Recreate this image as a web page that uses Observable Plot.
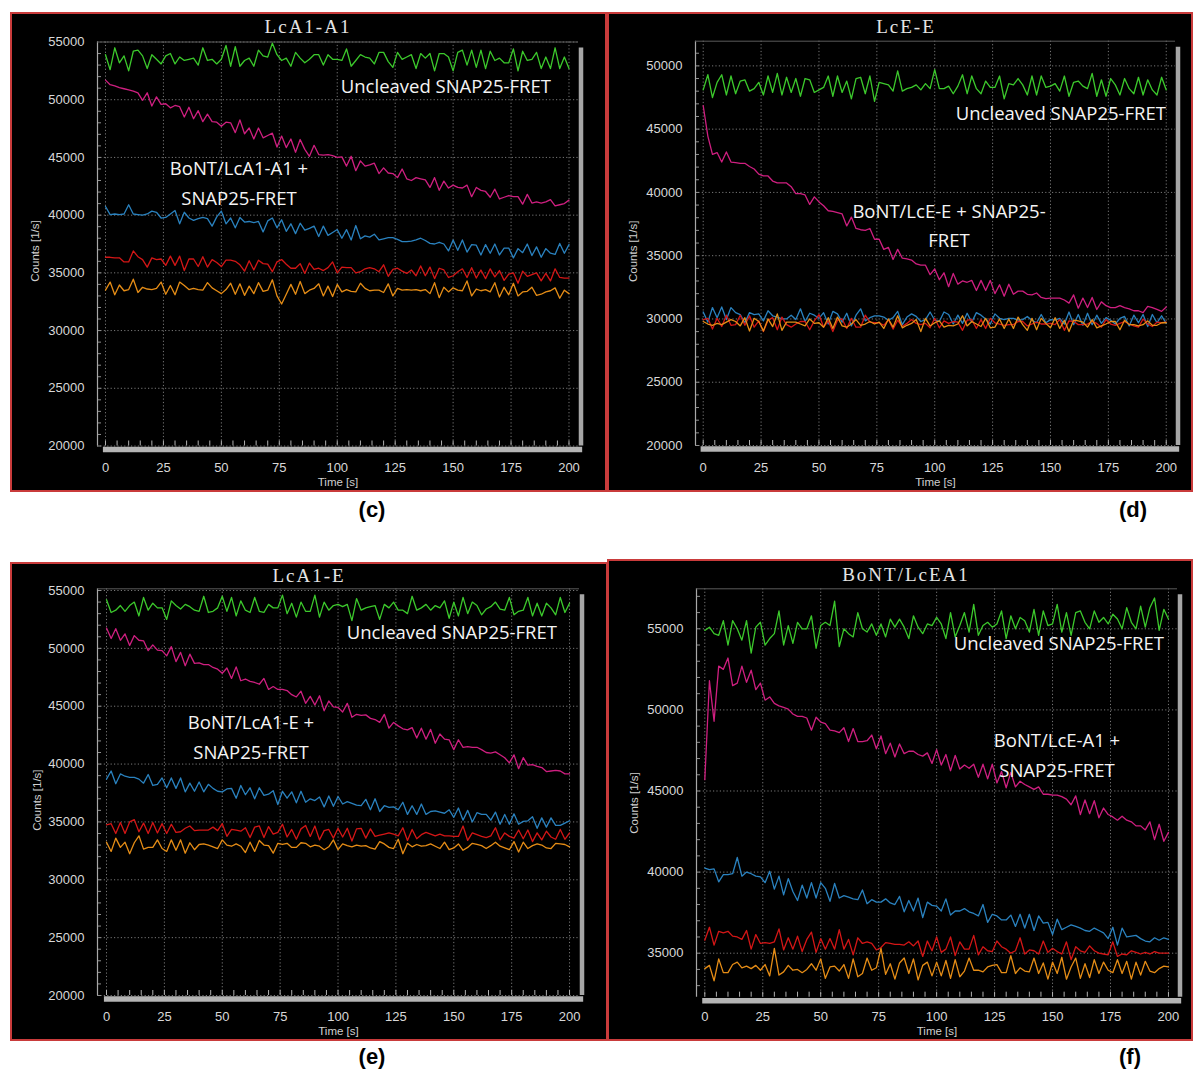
<!DOCTYPE html>
<html>
<head>
<meta charset="utf-8">
<script src="https://cdn.jsdelivr.net/npm/d3@7"></script>
<script src="https://cdn.jsdelivr.net/npm/@observablehq/plot@0.6"></script>
<style>
  html, body { margin: 0; padding: 0; background: #fff; }
  #root { position: relative; width: 1193px; height: 1072px; overflow: hidden; background: #fff; }
  .panel { position: absolute; box-sizing: border-box; background: #000; border: 2px solid #c93b3b; }
  .plot { position: absolute; }
  .plot svg { overflow: visible; }
  .lbl { position: absolute; white-space: nowrap; line-height: 1; }
</style>
</head>
<body>
<div id="root"></div>
<script>
// ---------------- DATA ----------------
const time = [0,2,4,6,8,10,12,14,16,18,20,22,24,26,28,30,32,34,36,38,40,42,44,46,48,50,52,54,56,58,60,62,64,66,68,70,72,74,76,78,80,82,84,86,88,90,92,94,96,98,100,102,104,106,108,110,112,114,116,118,120,122,124,126,128,130,132,134,136,138,140,142,144,146,148,150,152,154,156,158,160,162,164,166,168,170,172,174,176,178,180,182,184,186,188,190,192,194,196,198,200];
const xTicks = [0,25,50,75,100,125,150,175,200];
const seriesNames = ["Uncleaved SNAP25-FRET","BoNT + SNAP25-FRET","blue trace","red trace","orange trace"];

// Panel (c) LcA1-A1
const cGreen = [53900,52600,54500,53200,53800,52500,54200,54300,53800,52700,
 53900,53500,53100,53800,54000,53100,53700,53400,53500,53600,
 53000,54500,53400,53500,53100,53500,54700,52900,54600,52900,
 53400,53600,52900,54300,53800,53700,54900,53900,53400,53600,
 52900,54100,53600,53200,53500,53900,53900,53000,53900,53500,
 53500,53400,54400,52900,53400,53900,53700,53600,53100,54100,
 54100,53300,52800,54100,53500,53700,53900,52700,54000,53600,
 54000,52500,54000,54000,53700,52500,54100,54300,53000,54300,
 52800,54300,52700,54200,53400,53600,53200,53200,54400,52500,
 54200,53400,53500,54100,52700,53700,52700,54500,52700,53700,
 52700];
const cMagenta = [51700,51300,51200,51050,50950,50850,50750,50600,49950,50600,
 49450,50250,49600,49650,49300,49500,49400,48500,49350,48350,
 49050,48100,48750,48100,48050,47700,48050,48000,47150,48250,
 47050,47550,46600,47550,46700,46900,47100,45900,46850,45850,
 46600,45450,46550,45700,45100,46050,45250,45200,45250,45150,
 45000,45050,44250,45100,43850,44700,44250,44350,44500,43600,
 44100,43650,43600,43250,44000,43150,43000,43250,43150,43050,
 42400,43250,42150,42950,42350,42600,42400,42350,42600,41600,
 42400,42150,42050,41550,42250,41400,41550,41700,41600,41600,
 40950,41800,41050,41150,41050,41150,41350,40800,40900,41000,
 41300];
const cBlue = [40750,40050,40100,40050,40100,40900,40100,40050,40000,40100,
 40350,40250,39750,39800,40100,40400,39250,40250,39750,39550,
 39700,39800,39700,39050,39850,40350,39250,39750,38900,39800,
 39400,39450,39350,39450,38550,39500,39750,38900,39600,38600,
 39250,38400,39300,38700,38850,39050,38150,39050,38250,38500,
 38750,38000,38750,37850,39100,37950,38200,38100,38350,37850,
 37950,38050,38050,37900,37700,37700,37750,37850,38000,37800,
 37550,37500,37650,37500,36900,37850,36950,37850,36800,37450,
 37400,36550,37450,36700,37500,36550,37150,37150,36300,37100,
 36750,37500,36500,37250,36350,37100,36700,36600,37550,36700,
 37450];
const cRed = [36350,36350,36300,36300,35950,35950,36900,36400,36150,35500,
 36300,36150,36200,35650,36450,35650,36450,35200,36200,36200,
 35550,36400,35500,36150,35900,35550,36100,36100,36000,35700,
 35150,36050,35250,36100,35800,35750,35100,35950,36150,35750,
 35400,35400,35800,34950,35850,35300,35400,35200,35450,35950,
 35000,35500,35450,35450,35000,35100,35350,35450,35350,35100,
 35700,34700,35300,35400,35150,34950,35250,34750,35600,34750,
 35500,34500,35400,35250,34600,34750,35100,35350,34600,35450,
 34550,35250,34500,35350,34650,35200,34350,34900,35000,34100,
 35150,34700,34850,35000,34300,34950,34300,35350,34600,34550,
 34550];
const cOrange = [33500,34200,33100,33950,33450,33550,34450,33300,33750,33600,
 33550,33650,34200,33150,33900,33100,34200,33900,33550,33650,
 33550,33500,34150,33700,33450,33200,33550,34100,33150,34050,
 33050,33850,33200,34150,33400,33500,34400,33000,32300,33150,
 34000,33150,34250,33200,33500,33650,34050,33000,33850,32950,
 34000,33350,33550,33400,33350,34100,33650,33450,33500,33500,
 33300,34050,33000,33650,33500,33550,33500,33550,33450,33550,
 33200,34150,32850,33750,33350,33700,33500,33450,34300,33000,
 33600,33450,33550,33350,34150,32900,33750,33100,34100,33000,
 33350,33400,33750,33050,33150,33350,33450,33700,32800,33500,
 33200];

// Panel (d) LcE-E
const dGreen = [48100,49300,47500,48700,49300,47700,49200,47800,48800,48900,
 48000,48200,48700,47700,49200,47900,49400,47700,49100,47900,
 49000,47600,49000,48900,47900,48100,48300,49200,47600,49200,
 47900,48800,47400,49000,49100,47800,49200,47200,48700,48600,
 48500,48000,49600,48000,48200,48300,48500,48100,48600,48200,
 49700,48200,48200,48400,47800,48400,49300,47800,49200,48200,
 47800,48800,48300,48300,49200,47400,48600,48500,49000,48500,
 47700,49200,47700,49200,48300,48400,48600,48000,49200,47600,
 48700,48800,48400,48200,49400,47600,48900,47600,49000,48500,
 47700,49000,48200,47800,49100,47700,48900,48100,47700,49100,
 48100];
const dMagenta = [46850,44450,43000,43150,42400,43200,42400,42350,42300,42300,
 42050,41850,41450,41300,41300,40900,40750,40750,40750,40450,
 39900,39900,39800,39050,39650,39250,38950,38550,38500,38400,
 38300,37350,38050,37150,37050,37000,37150,36300,36300,35500,
 35650,34700,35500,34800,34750,34650,34350,34250,34250,33500,
 33950,33100,33650,32550,33600,32750,33000,32900,33050,32250,
 33050,32250,33050,32000,32700,31800,32750,31950,32200,32200,
 31950,31900,32050,31700,31600,31650,31650,31650,31500,31250,
 31900,30850,31650,30900,31700,30750,31350,31050,30900,30900,
 31050,30900,30800,30650,30650,30500,31000,30900,30750,30600,
 30950];
const dBlue = [30550,29750,30900,30100,30950,29950,30900,30500,30350,29700,
 30500,30350,30400,29850,30650,30250,30150,30000,30000,30300,
 29950,30800,29800,30450,30300,30050,30500,29600,30600,30400,
 29750,30450,29450,30300,30800,29850,30100,30250,30250,30150,
 29900,30100,30600,29550,30150,30400,30200,29800,29950,30550,
 29900,29800,30550,30350,29600,30300,29650,30450,29750,30500,
 30300,30000,29600,30400,30050,29950,30050,30050,29900,29950,
 30200,29900,29700,30350,29700,29950,29900,30050,29600,30550,
 29550,30350,29500,30450,29550,30300,29650,30100,29900,29600,
 30050,30200,29450,30300,29700,30350,29400,30350,29700,30250,
 29650];
const dRed = [29950,30050,29200,30050,29400,30300,29500,29550,30300,29500,
 30250,29350,29850,29000,29900,30100,29150,30150,29550,29350,
 29600,29800,29800,29150,29850,30350,29350,29850,29000,29900,
 30000,29250,30050,29350,29350,30300,29750,29700,29700,29500,
 29950,29200,29900,29400,29650,29950,29650,29550,29650,29300,
 30050,29300,29850,29650,29800,29750,29100,29900,29950,29250,
 29950,29250,30050,29700,29600,29500,29550,29550,29800,29800,
 29450,29600,29750,29600,29600,29650,29550,29950,29100,29850,
 29800,29550,29550,29600,29800,29650,29350,29950,29600,29500,
 29650,29800,29600,29450,29350,30000,29600,29400,29750,29700,
 29750];
const dOrange = [29800,29600,29500,29650,29550,29750,29950,29800,29450,30100,
 29050,30050,29800,29050,30000,29400,30400,29100,29750,29750,
 29750,29600,29450,30000,29650,29700,29350,30100,29250,30150,
 29450,29350,29600,29950,29500,29600,29800,29600,29750,29250,
 30000,29350,30250,29300,29500,29650,29950,29000,30050,29450,
 29700,29850,29350,29500,29450,29600,30250,29450,29800,29600,
 29400,30050,29300,29350,30000,29250,30000,29250,30150,29550,
 29100,30050,29150,30050,29650,29300,30100,29250,29900,29000,
 29900,29850,29750,29350,29950,29300,29450,29600,29800,29800,
 29150,29900,29550,29550,29450,29550,29850,29500,29500,29700,
 29700];

// Panel (e) LcA1-E
const eGreen = [54200,53100,53300,53700,53200,53700,54000,52800,54400,53300,
 53900,53500,53500,52500,54100,53700,53400,53800,53600,53300,
 53200,54500,53100,53200,53500,54500,53200,54400,52800,54100,
 53300,53100,54400,53200,53100,53800,53500,53500,54600,53000,
 53900,52700,54000,53200,53200,54600,52700,54000,53300,53700,
 53800,53600,53800,52400,54300,53300,53500,53600,53700,52500,
 53800,53500,54000,53300,53300,53000,54500,53300,53500,53800,
 53300,53700,53500,54100,52600,54000,52800,54400,53000,54000,
 53700,52900,53400,53600,54000,53400,53300,54400,52900,53200,
 53300,54400,52800,53900,52800,53900,53500,52900,54400,53100,
 53900];
const eMagenta = [51750,50850,51700,50700,51250,50250,51100,50700,50650,49800,
 50300,49850,49800,49350,50150,48850,49650,48500,49500,48700,
 48750,48600,48600,48350,48200,47850,48300,47400,48400,47200,
 47350,47150,47050,46900,47400,46450,46700,46450,46450,46350,
 46000,45800,46300,45250,45850,45100,45900,44600,45450,44950,
 44900,44500,45250,44050,44300,44200,44250,43950,43850,43600,
 44300,43100,43600,43300,43050,42950,43150,42250,43100,42150,
 43000,41800,42600,42150,42100,41250,42100,41450,41500,41450,
 41450,41250,41000,40950,41050,40800,40550,40100,40800,39600,
 40550,39900,39950,39800,39700,39350,39400,39450,39400,39150,
 39150];
const eBlue = [38700,39400,38300,39150,38950,38850,38850,38700,38350,39100,
 38150,38250,38800,37950,38800,37900,38800,37600,38350,37650,
 38450,37600,38250,37900,37650,37600,37850,37900,37050,38150,
 37350,37950,37000,37950,37300,37400,37700,36500,37650,37050,
 37600,36650,37650,36700,37000,36850,37150,36300,37250,36350,
 37200,36550,36750,36600,36450,36400,36950,36050,37000,35900,
 36400,36250,36300,36050,36700,35650,36400,35650,36550,35650,
 35900,35950,35850,35750,36050,35400,36200,35150,36000,35000,
 35800,35650,35650,35150,35850,34800,35650,34800,35700,34800,
 35050,35100,35450,34450,35350,34550,35350,34700,34700,34900,
 35100];
const eRed = [34750,34850,34000,34950,34000,35000,35200,34150,34900,34000,
 34950,34050,34850,34000,34800,34100,34150,34450,34650,34250,
 34300,34300,34300,34550,34250,34850,33750,34350,34300,34200,
 34500,33650,34550,34650,33650,34600,33950,34100,34800,33700,
 34350,33500,34400,34700,33750,34650,33450,34250,34350,33600,
 34450,33700,34450,33350,34400,34450,33600,34400,33750,33850,
 33950,34050,33950,33800,34500,33400,34350,33550,33900,34100,
 33950,33800,33950,33800,33800,33750,33750,34650,33400,34050,
 33900,33750,33650,33800,34500,33450,34050,33750,33600,34300,
 33550,34300,33300,34050,33450,34200,33700,33500,34350,33500,
 34050];
const eOrange = [33250,32450,33600,32800,33250,32250,33200,33800,32650,32800,
 32800,33450,32700,32450,33450,32550,33450,32300,33200,32600,
 33050,33100,33000,32850,32700,33450,33000,32900,33100,32900,
 32350,33250,32450,33400,33000,32950,32300,33150,33050,33150,
 32800,32800,33200,33150,32850,33000,32900,32600,32850,33450,
 32600,33100,32950,32850,33000,32900,32950,32750,32650,33300,
 33100,32800,32700,33500,32250,33150,32850,33050,32900,32950,
 33100,32900,32700,33250,32600,32750,33100,32550,32800,33150,
 33050,32950,32700,32950,33250,32900,32750,32600,33300,32400,
 33250,32700,32950,33100,33000,32750,32700,33150,33100,33050,
 32850];

// Panel (f) BoNT/LcEA1
const fGreen = [54900,55100,54700,54600,55500,54000,55500,55000,54300,55500,
 53500,55100,55400,54000,54400,54700,56100,54000,55200,54100,
 55400,55000,55000,55800,53800,55200,55400,55200,56700,53900,
 55000,54700,54500,56000,55000,54800,55300,54600,55300,54500,
 55600,55100,55600,55100,54400,55800,55100,54700,55300,55200,
 55700,55300,54400,56000,54500,55200,56000,54800,56500,54600,
 55200,55400,55100,55300,56100,54400,55800,55000,55700,55500,
 54800,56200,54600,56100,55200,55300,56500,54800,56000,54600,
 56000,56100,55400,55000,56100,55400,55700,55300,55900,55600,
 55000,56300,55400,55000,56400,55100,56300,56900,54900,56200,
 55600];
const fMagenta = [45700,51800,49300,52700,52500,53200,51500,51650,52700,51700,
 52450,51250,51650,50600,50800,50400,50250,50150,50050,49750,
 49600,49600,49500,48750,49550,49250,49150,48750,48700,48600,
 48900,48050,48850,48050,48050,48100,48450,47600,48400,47300,
 47950,47100,47900,47300,47450,47450,47250,47150,47350,46700,
 47550,46600,47250,46250,47200,46350,46600,46400,46650,45850,
 46650,45750,46650,45500,46200,45200,46150,45250,45600,45400,
 45250,45100,45250,44800,44800,44750,44750,44650,44500,44150,
 44700,43550,44450,43600,44400,43350,43950,43550,43400,43200,
 43450,43200,43100,42850,42850,42600,43100,42000,42950,41900,
 42450];
const fBlue = [40250,40150,40200,39400,39850,39850,39900,40900,39750,40000,
 39900,39750,39700,39350,40050,38950,39750,38600,39600,38800,
 38250,39200,38400,39350,38400,39350,39000,38200,39300,38400,
 38550,38450,38350,38300,38900,38050,38300,38150,38150,38350,
 38100,38000,38500,37550,38250,37600,38400,37200,38150,37950,
 37900,37600,38350,37350,37600,37600,37750,37550,37450,37300,
 38000,36900,37400,37300,37050,37050,37350,36650,37400,36550,
 37400,36400,37300,36850,36900,36150,37100,36450,36600,36750,
 36650,36550,36400,36350,36550,36400,36250,35900,36600,35500,
 36550,36000,36050,36100,35900,35750,35700,35950,35800,35950,
 35850];
const fRed = [35800,36600,35500,36350,36250,36350,36050,36000,35850,36400,
 35250,36150,35600,35650,35600,35700,36500,35200,35950,35250,
 36050,35100,35850,36300,35050,35900,35250,35900,35250,36450,
 35250,35850,34900,35950,35600,35700,35600,35200,35350,35650,
 35600,35550,35550,35500,35700,35450,35750,34800,35750,35150,
 36000,35050,35250,36000,34850,35700,35250,35250,36100,34900,
 35400,35150,35100,35750,35400,35250,35000,35150,35950,34950,
 35200,35150,34950,35750,35050,35300,35100,34950,35700,34600,
 35400,35150,35050,35450,35150,35000,34950,34900,35700,34800,
 34950,34900,35150,35050,34950,35050,34950,35100,35000,35000,
 35000];
const fOrange = [34050,34250,33300,34650,33800,33800,34300,34450,34100,34200,
 34050,34250,33950,34300,33600,35300,33650,33850,34250,33950,
 34000,33800,34000,34350,33950,34650,33450,34150,34200,33900,
 34300,33450,34650,33550,33750,34700,33950,34100,35300,33700,
 34350,33400,34400,34700,33750,34650,33350,34250,34450,33600,
 34450,33600,34550,33450,34600,33550,33900,34700,33950,33950,
 33850,34150,34250,34300,33800,33800,34850,33750,34100,33900,
 33850,34700,33750,34400,33400,34450,33750,34750,33400,34150,
 34700,33450,34350,33500,34600,33750,34450,33950,33800,34600,
 33750,34500,33400,34450,33650,34500,33900,33800,34050,34200,
 34150];

// ---------------- LAYOUT / STYLE ----------------
const colors = {green: "#3cc92c", magenta: "#cf1f80", blue: "#2a82bf", red: "#d41616", orange: "#e68d16"};
const panels = [
  {title: "LcA1-A1", letter: "(c)", box: [10, 12, 597, 480], m: [29.5, 29, 46.5, 87],
   xDomain: [-3.45, 204.1], yDomain: [20000, 55000], yTicks: [20000,25000,30000,35000,40000,45000,50000,55000],
   barTop: 54480, tickPad: 17, timeDy: 36.5, countDx: -62, countDy: 7,
   titlePos: [308, 26], letterPos: [372, 510],
   notes: [["Uncleaved SNAP25-FRET", 551, 86, "end"], ["BoNT/LcA1-A1 +", 239, 168, "middle"], ["SNAP25-FRET", 239, 198, "middle"]],
   s: [cGreen, cMagenta, cBlue, cRed, cOrange]},
  {title: "LcE-E", letter: "(d)", box: [607, 12, 586, 480], m: [28.7, 18, 47, 88],
   xDomain: [-3.33, 204], yDomain: [20000, 51950], yTicks: [20000,25000,30000,35000,40000,45000,50000],
   barTop: 51470, tickPad: 17, timeDy: 37, countDx: -62, countDy: 8,
   titlePos: [906, 26], letterPos: [1133, 510],
   notes: [["Uncleaved SNAP25-FRET", 1166, 113, "end"], ["BoNT/LcE-E + SNAP25-", 949, 211, "middle"], ["FRET", 949, 240, "middle"]],
   s: [dGreen, dMagenta, dBlue, dRed, dOrange]},
  {title: "LcA1-E", letter: "(e)", box: [10, 562, 598, 479], m: [26.3, 29, 46, 87],
   xDomain: [-3.89, 204.3], yDomain: [20000, 55147], yTicks: [20000,25000,30000,35000,40000,45000,50000,55000],
   barTop: 54630, tickPad: 16.5, timeDy: 36, countDx: -60, countDy: 8,
   titlePos: [309, 575], letterPos: [372, 1057],
   notes: [["Uncleaved SNAP25-FRET", 557, 632, "end"], ["BoNT/LcA1-E +", 251, 722, "middle"], ["SNAP25-FRET", 251, 752, "middle"]],
   s: [eGreen, eMagenta, eBlue, eRed, eOrange]},
  {title: "BoNT/LcEA1", letter: "(f)", box: [607, 559, 586, 482], m: [29.3, 16, 44.3, 89],
   xDomain: [-3.58, 203.9], yDomain: [32287, 57466], yTicks: [35000,40000,45000,50000,55000],
   barTop: 57100, tickPad: 15, timeDy: 34.5, countDx: -62, countDy: 10,
   titlePos: [906, 574], letterPos: [1130, 1057],
   notes: [["Uncleaved SNAP25-FRET", 1164, 643, "end"], ["BoNT/LcE-A1 +", 1057, 740, "middle"], ["SNAP25-FRET", 1057, 770, "middle"]],
   s: [fGreen, fMagenta, fBlue, fRed, fOrange]}
];

const root = document.getElementById("root");
function addLabel(txt, x, y, anchor, css) {
  const d = document.createElement("div");
  d.className = "lbl";
  d.textContent = txt;
  const tx = anchor === "middle" ? "-50%" : anchor === "end" ? "-100%" : "0";
  d.style.cssText += `left:${x}px;top:${y}px;transform:translate(${tx},-50%);` + css;
  root.appendChild(d);
}

const strokeList = [colors.green, colors.magenta, colors.blue, colors.red, colors.orange];
const minorX = d3.range(0, 201, 5);

for (const p of panels) {
  const [left, top, w, h] = p.box;
  const [mT, mR, mB, mL] = p.m;
  const bg = document.createElement("div");
  bg.className = "panel";
  bg.style.cssText = `left:${left}px;top:${top}px;width:${w}px;height:${h}px;`;
  root.appendChild(bg);

  const plotW = w - mL - mR, plotH = h - mT - mB;
  const minorY = d3.range(Math.ceil(p.yDomain[0] / 1000) * 1000, p.yDomain[1], 1000);
  const lineMarks = p.s.map((vals, k) => {
    const rows = [];
    vals.forEach((v, i) => { if (time[i] !== undefined) rows.push({t: time[i], v, series: seriesNames[k]}); });
    return Plot.line(rows, {x: "t", y: "v", stroke: strokeList[k], strokeWidth: 1.3});
  });
  const chart = Plot.plot({
    width: w, height: h,
    marginTop: mT, marginRight: mR, marginBottom: mB, marginLeft: mL,
    style: {background: "transparent", color: "#d6d6d6", fontFamily: "'Liberation Sans', Arial, sans-serif", overflow: "visible"},
    x: {domain: p.xDomain},
    y: {domain: p.yDomain},
    marks: [
      Plot.gridX(xTicks, {stroke: "#8c8c8c", strokeOpacity: 0.85, strokeDasharray: "1.2,2.2"}),
      Plot.gridY(p.yTicks, {stroke: "#8c8c8c", strokeOpacity: 0.85, strokeDasharray: "1.2,2.2"}),
      Plot.tickX(minorX, {x: d => d, insetTop: plotH - 5, stroke: "#b0b0b0"}),
      Plot.tickY(minorY, {y: d => d, insetRight: plotW - 4, stroke: "#909090"}),
      Plot.ruleX([p.xDomain[0]], {stroke: "#a8a8a8", strokeWidth: 1.2}),
      Plot.ruleY([p.yDomain[1]], {stroke: "#5a5a5a"}),
      ...lineMarks,
      Plot.ruleY([p.yDomain[0]], {x1: -0.9, x2: p.xDomain[1] + 1.8, dy: 3.5, stroke: "#b4b4b4", strokeWidth: 5.5}),
      Plot.ruleX([p.xDomain[1]], {y1: p.yDomain[0], y2: p.barTop, dx: 2.5, stroke: "#a6a6a6", strokeWidth: 4.5}),
      Plot.axisY(p.yTicks, {tickSize: 0, tickPadding: 13, tickFormat: d => String(d), fontSize: 13, label: null, fill: "#d8d8d8"}),
      Plot.axisX(xTicks, {tickSize: 0, tickPadding: p.tickPad, fontSize: 13, label: null, fill: "#d8d8d8"}),
      Plot.text(["Time [s]"], {frameAnchor: "bottom", lineAnchor: "middle", textAnchor: "middle", dy: p.timeDy, fontSize: 11.5, fill: "#cfcfcf"}),
      Plot.text(["Counts [1/s]"], {frameAnchor: "left", textAnchor: "middle", lineAnchor: "middle", dx: p.countDx, dy: p.countDy, rotate: -90, fontSize: 11.5, fill: "#cfcfcf"})
    ]
  });
  const holder = document.createElement("div");
  holder.className = "plot";
  holder.style.cssText = `left:${left}px;top:${top}px;width:${w}px;height:${h}px;`;
  holder.appendChild(chart);
  root.appendChild(holder);

  addLabel(p.title, p.titlePos[0], p.titlePos[1], "middle",
    "font-family:'Liberation Serif','DejaVu Serif',serif;font-size:19px;letter-spacing:2px;color:#e4e4e4;");
  for (const [txt, x, y, a] of p.notes) {
    addLabel(txt, x, y, a, "font-family:'Open Sans',sans-serif;font-size:18.5px;color:#f4f4f4;");
  }
  addLabel(p.letter, p.letterPos[0], p.letterPos[1], "middle",
    "font-family:'Liberation Sans',Arial,sans-serif;font-size:22px;font-weight:bold;color:#000;");
}
</script>
</body>
</html>
